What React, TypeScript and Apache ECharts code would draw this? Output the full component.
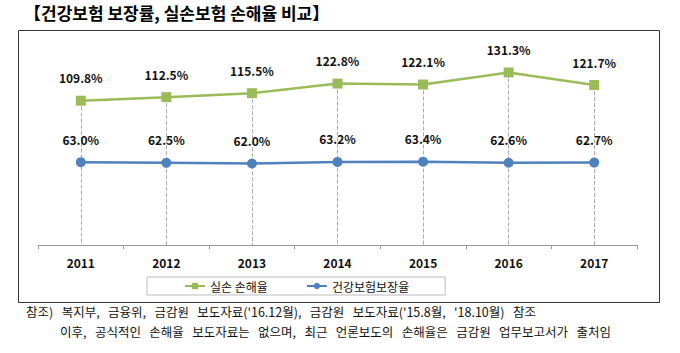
import React, { useEffect, useRef } from "react";
import * as echarts from "echarts";

const years = ["2011", "2012", "2013", "2014", "2015", "2016", "2017"];
const lossRatio = [109.8, 112.5, 115.5, 122.8, 122.1, 131.3, 121.7];
const coverageRate = [63.0, 62.5, 62.0, 63.2, 63.4, 62.6, 62.7];
const seriesNames = ["실손 손해율", "건강보험보장율"];
const titleText = "【건강보험 보장률, 실손보험 손해율 비교】";
const note1Words = ["참조)", "복지부,", "금융위,", "금감원", "보도자료('16.12월),", "금감원", "보도자료('15.8월,", "'18.10월)", "참조"];
const note2Words = ["이후,", "공식적인", "손해율", "보도자료는", "없으며,", "최근", "언론보도의", "손해율은", "금감원", "업무보고서가", "출처임"];

const KR = "'Noto Sans CJK KR', 'Noto Sans', sans-serif";

export default function App() {
  const ref = useRef<HTMLDivElement>(null);
  useEffect(() => {
    document.body.style.margin = "0";
    const chart = echarts.init(ref.current!, undefined, { renderer: "svg" });
    const labelStyle = {
      show: true,
      position: "top" as const,
      distance: 12,
      formatter: (p: any) => p.value.toFixed(1) + "%",
      fontFamily: KR,
      fontWeight: "bold" as const,
      fontSize: 12,
      color: "#111",
    };
    chart.setOption({
      animation: false,
      backgroundColor: "#fff",
      grid: { left: 38, right: 43, top: 61, bottom: 108 },
      xAxis: {
        type: "category",
        data: years,
        boundaryGap: true,
        axisLine: { lineStyle: { color: "#999", width: 1 } },
        axisTick: { show: true, length: 4, lineStyle: { color: "#999" } },
        axisLabel: {
          fontFamily: KR,
          fontWeight: "bold",
          fontSize: 12,
          color: "#111",
          margin: 11,
        },
      },
      yAxis: {
        type: "value",
        min: 0,
        max: 140,
        show: false,
        splitLine: { show: false },
      },
      legend: {
        left: 147,
        top: 277,
        data: seriesNames,
        itemWidth: 20,
        itemHeight: 8,
        itemGap: 38,
        padding: [3, 36, 3, 37],
        borderColor: "#bbb",
        borderWidth: 1,
        textStyle: { fontFamily: KR, fontSize: 12, color: "#111" },
      },
      graphic: [
        {
          type: "rect",
          shape: { x: 18.5, y: 30.5, width: 641, height: 272 },
          style: { fill: "none", stroke: "#333", lineWidth: 1 },
          silent: true,
        },
        {
          type: "text",
          left: 24,
          top: 4,
          style: {
            text: titleText,
            fontFamily: KR,
            fontWeight: "bold",
            fontSize: 17,
            fill: "#000",
          },
        },
        {
          type: "text",
          left: 26,
          top: 305,
          style: { text: note1Words.join("   "), fontFamily: KR, fontSize: 12.5, fill: "#111" },
        },
        {
          type: "text",
          left: 60,
          top: 325,
          style: { text: note2Words.join("   "), fontFamily: KR, fontSize: 12.5, fill: "#111" },
        },
      ],
      series: [
        {
          name: seriesNames[0],
          type: "line",
          data: lossRatio,
          symbol: "rect",
          symbolSize: 10,
          z: 3,
          lineStyle: { color: "#9BBB59", width: 2.5 },
          itemStyle: { color: "#9BBB59" },
          label: labelStyle,
          markLine: {
            silent: true,
            symbol: "none",
            animation: false,
            label: { show: false },
            lineStyle: { color: "#aaa", type: "dashed", width: 1 },
            z: 1,
            data: lossRatio.map((v, i) => [
              { coord: [i, v] },
              { coord: [i, 0] },
            ]),
          },
        },
        {
          name: seriesNames[1],
          type: "line",
          data: coverageRate,
          symbol: "circle",
          symbolSize: 10,
          z: 4,
          lineStyle: { color: "#4F81BD", width: 2.5 },
          itemStyle: { color: "#4F81BD" },
          label: labelStyle,
        },
      ],
    });
    return () => chart.dispose();
  }, []);
  return <div ref={ref} style={{ width: 680, height: 353 }} />;
}
